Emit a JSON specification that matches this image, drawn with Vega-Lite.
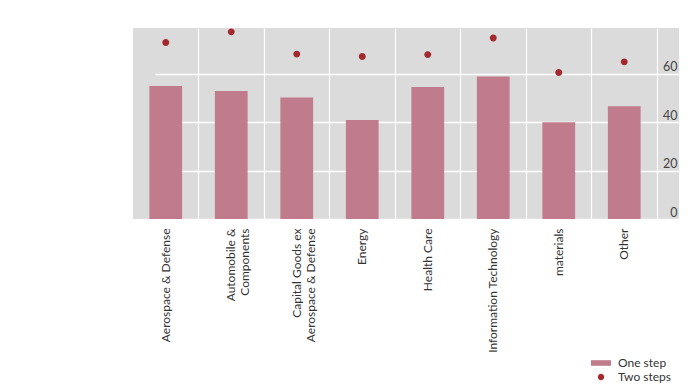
{
  "$schema": "https://vega.github.io/schema/vega-lite/v6.json",
  "width": 546,
  "height": 191,
  "autosize": {"type": "none"},
  "padding": {"left": 133, "top": 28, "right": 14, "bottom": 168},
  "background": "white",
  "config": {
    "view": {"fill": "#DBDBDB", "stroke": null},
    "font": "Lato"
  },
  "data": {
    "values": [
      {"sector": "Aerospace & Defense", "series": "One step", "value": 55.0},
      {"sector": "Automobile & Components", "series": "One step", "value": 52.9},
      {"sector": "Capital Goods ex Aerospace & Defense", "series": "One step", "value": 50.3},
      {"sector": "Energy", "series": "One step", "value": 40.9},
      {"sector": "Health Care", "series": "One step", "value": 54.6},
      {"sector": "Information Technology", "series": "One step", "value": 58.9},
      {"sector": "materials", "series": "One step", "value": 40.0},
      {"sector": "Other", "series": "One step", "value": 46.6},
      {"sector": "Aerospace & Defense", "series": "Two steps", "value": 73.0},
      {"sector": "Automobile & Components", "series": "Two steps", "value": 77.4},
      {"sector": "Capital Goods ex Aerospace & Defense", "series": "Two steps", "value": 68.2},
      {"sector": "Energy", "series": "Two steps", "value": 67.2},
      {"sector": "Health Care", "series": "Two steps", "value": 68.0},
      {"sector": "Information Technology", "series": "Two steps", "value": 74.9},
      {"sector": "materials", "series": "Two steps", "value": 60.6},
      {"sector": "Other", "series": "Two steps", "value": 65.0}
    ]
  },
  "encoding": {
    "x": {
      "field": "sector",
      "type": "nominal",
      "sort": null,
      "scale": {"range": [0, 524], "paddingInner": 0, "paddingOuter": 0},
      "axis": {
        "title": null,
        "labelAngle": -90,
        "labelAlign": "right",
        "labelBaseline": "middle",
        "labelPadding": 9,
        "ticks": false,
        "domain": false,
        "grid": true,
        "bandPosition": 1,
        "gridColor": "white",
        "gridWidth": 1.2,
        "labelFontSize": 12,
        "labelColor": "#333333",
        "labelLimit": 300,
        "labelExpr": "datum.label == 'Automobile & Components' ? ['Automobile &', 'Components'] : datum.label == 'Capital Goods ex Aerospace & Defense' ? ['Capital Goods ex', 'Aerospace & Defense'] : datum.label"
      }
    },
    "y": {
      "field": "value",
      "type": "quantitative",
      "scale": {"domain": [0, 79], "nice": false, "zero": true},
      "axis": {
        "orient": "right",
        "title": null,
        "values": [0, 20, 40, 60],
        "ticks": false,
        "domain": false,
        "grid": true,
        "gridColor": "white",
        "gridWidth": 1.5,
        "labelAlign": "right",
        "labelBaseline": "bottom",
        "labelPadding": -2,
        "labelFontSize": 12.5,
        "labelColor": "#444444"
      }
    },
    "color": {
      "field": "series",
      "type": "nominal",
      "scale": {"domain": ["One step", "Two steps"], "range": ["#C07C8C", "#A3292E"]},
      "legend": {
        "title": null,
        "orient": "none",
        "legendX": 460,
        "legendY": 327,
        "symbolSize": 256,
        "symbolStrokeWidth": 0,
        "labelOffset": 9,
        "labelFontSize": 12,
        "labelColor": "#333333",
        "rowPadding": 0,
        "padding": 0
      }
    }
  },
  "layer": [
    {
      "transform": [{"filter": "datum.series == 'One step'"}],
      "mark": {"type": "bar", "width": {"band": 0.5}}
    },
    {
      "transform": [{"filter": "datum.series == 'Two steps'"}],
      "mark": {"type": "point", "filled": true, "size": 300, "opacity": 1},
      "encoding": {
        "shape": {
          "field": "series",
          "type": "nominal",
          "scale": {"domain": ["One step", "Two steps"], "range": ["M-1.25,-0.35H1.25V0.35H-1.25Z", "M0.4,0A0.4,0.4,0,1,1,-0.4,0A0.4,0.4,0,1,1,0.4,0Z"]},
          "legend": {
            "title": null,
            "orient": "none",
            "legendX": 460,
            "legendY": 327,
            "symbolSize": 256,
            "symbolStrokeWidth": 0,
            "labelOffset": 9,
            "labelFontSize": 12,
            "labelColor": "#333333",
            "rowPadding": 0,
            "padding": 0
          }
        }
      }
    }
  ]
}
